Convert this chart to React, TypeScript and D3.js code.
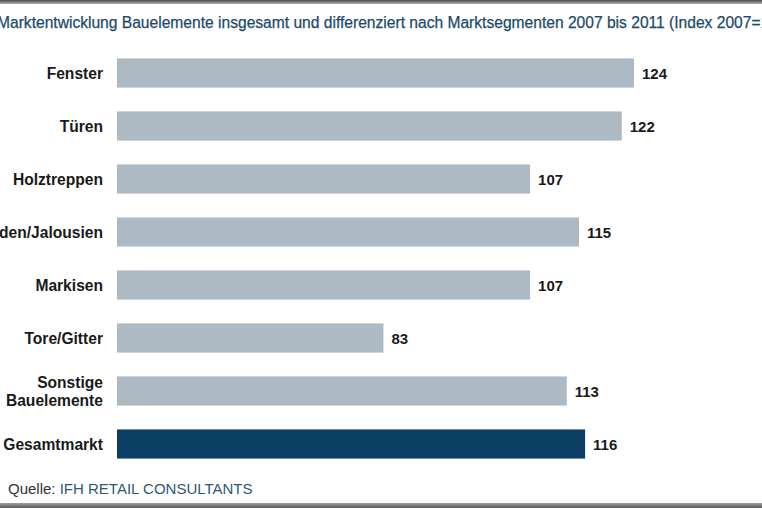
import React from "react";
import * as d3 from "d3";

const categories = ["Fenster", "Türen", "Holztreppen", "Rollläden/Jalousien", "Markisen", "Tore/Gitter", "Sonstige Bauelemente", "Gesamtmarkt"];
const labelLines = [["Fenster"], ["Türen"], ["Holztreppen"], ["Rollläden/Jalousien"], ["Markisen"], ["Tore/Gitter"], ["Sonstige", "Bauelemente"], ["Gesamtmarkt"]];
const values = [124, 122, 107, 115, 107, 83, 113, 116];
const highlight = ["Gesamtmarkt"];
const title = "Marktentwicklung Bauelemente insgesamt und differenziert nach Marktsegmenten 2007 bis 2011 (Index 2007=100)";
const sourceLabel = "Quelle:";
const sourceName = "IFH RETAIL CONSULTANTS";

const W = 762;
const H = 508;

export default function App() {
  const x = d3.scaleLinear().domain([39.4, 124]).range([117, 634]);
  const y = d3.scaleBand<string>().domain(categories).range([46.5, 470.5]).paddingInner(0.45).paddingOuter(0.225);
  const font = "'Liberation Sans', Arial, sans-serif";
  const x0 = x(39.4);
  return (
    <div style={{ position: "fixed", left: 0, top: 0, width: W, height: H }}>
      <svg width={W} height={H} style={{ display: "block" }} fontFamily={font}>
        <defs>
          <linearGradient id="topb" x1="0" y1="0" x2="0" y2="1">
            <stop offset="0" stopColor="#4a4a4a" />
            <stop offset="1" stopColor="#b0b0b0" />
          </linearGradient>
          <linearGradient id="botb" x1="0" y1="0" x2="0" y2="1">
            <stop offset="0" stopColor="#a0a0a0" />
            <stop offset="1" stopColor="#5a5a5a" />
          </linearGradient>
        </defs>
        <rect x={0} y={0} width={W} height={H} fill="#ffffff" />
        <rect x={0} y={0} width={W} height={4} fill="url(#topb)" />
        <rect x={0} y={503} width={W} height={5} fill="url(#botb)" />
        <text x={-3} y={28} fontSize={15.6} fill="#1d4a68" stroke="#1d4a68" strokeWidth={0.25}>{title}</text>
        {categories.map((c, i) => {
          const yy = y(c)!;
          const bw = y.bandwidth();
          const isHi = highlight.includes(c);
          const lines = labelLines[i];
          const cy = yy + bw / 2;
          return (
            <g key={c}>
              <rect x={x0} y={yy} width={x(values[i]) - x0} height={bw} fill={isHi ? "#0b3f64" : "#adb9c3"} />
              <text textAnchor="end" fontWeight="bold" fontSize={15.6} fill="#1a1a1a">
                {lines.map((l, j) => (
                  <tspan key={j} x={103} y={cy + 5.5 + (j - (lines.length - 1) / 2) * 18}>{l}</tspan>
                ))}
              </text>
              <text x={x(values[i]) + 8} y={cy + 5.5} fontWeight="bold" fontSize={15} fill="#1a1a1a">{values[i]}</text>
            </g>
          );
        })}
        <text x={8} y={494} fontSize={15} fill="#333333">
          {sourceLabel} <tspan fill="#2f5872">{sourceName}</tspan>
        </text>
      </svg>
    </div>
  );
}
